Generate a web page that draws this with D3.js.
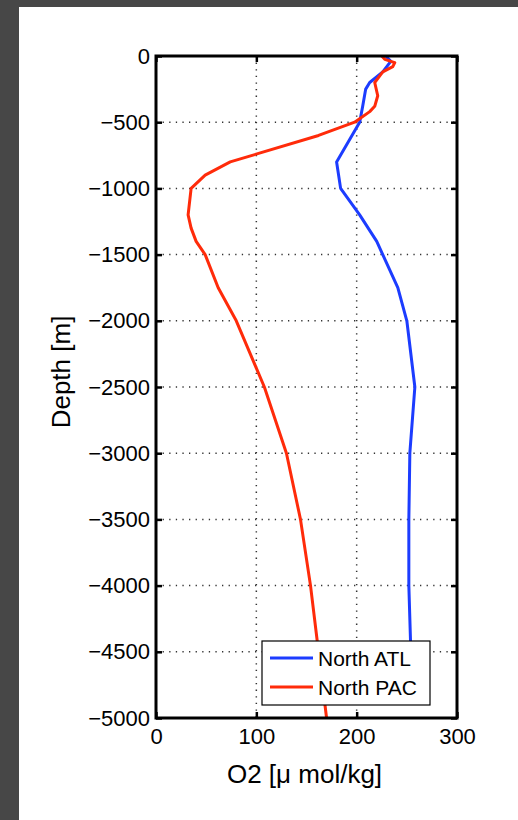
<!DOCTYPE html>
<html lang="en">
<head>
<meta charset="UTF-8">
<title>O2 depth profiles</title>
<script src="https://d3js.org/d3.v7.min.js"></script>
<style>
  body { margin: 0; background: #474747; }
  svg { display: block; font-family: "Liberation Sans", Arial, sans-serif; }
  .axis path { display: none; }
  .axis line { stroke: #000; stroke-width: 2.5; }
  .axis text { font-size: 22px; fill: #000; }
  .grid line { stroke: #333; stroke-width: 1.5; stroke-dasharray: 1.3 5.3; }
</style>
</head>
<body>
<svg id="chart" width="518" height="820"></svg>
<script>
// tick labels
const xTicks = [0, 100, 200, 300];
const yTicks = [0, -500, -1000, -1500, -2000, -2500, -3000, -3500, -4000, -4500, -5000];

// North Atlantic profile
const atlDepth = [0, -40, -120, -200, -250, -380, -500, -800, -1000, -1200, -1400, -1500, -1750, -2000, -2500, -3000, -3500, -4000, -4500, -4750];
const atlO2    = [229, 234, 226, 213, 209, 206, 203, 180, 184, 203, 220, 226, 241, 250, 258, 253, 252, 252, 254, 255];

// North Pacific profile
const pacDepth = [0, -25, -50, -80, -120, -150, -200, -300, -380, -420, -500, -600, -800, -900, -1000, -1200, -1300, -1400, -1500, -1750, -2000, -2500, -3000, -3500, -4000, -4500, -5000];
const pacO2    = [225, 228, 238, 236, 226, 223, 218, 221, 218, 213, 198, 162, 74, 49, 35, 32, 35, 40, 49, 62, 80, 108, 130, 144, 154, 162, 170];

const series = [
  { name: "North ATL", color: "#1c3cff", depth: atlDepth, o2: atlO2 },
  { name: "North PAC", color: "#ff2b0a", depth: pacDepth, o2: pacO2 }
];

const svg = d3.select("#chart");
const W = 518, H = 820;
const margin = { left: 156, top: 56, right: 61, bottom: 102 };
const width = W - margin.left - margin.right;
const height = H - margin.top - margin.bottom;

// figure background
svg.append("rect").attr("x", 19).attr("y", 7).attr("width", W - 19).attr("height", H - 7).attr("fill", "#fff");

const x = d3.scaleLinear().domain([0, 300]).range([0, width]);
const y = d3.scaleLinear().domain([-5000, 0]).range([height, 0]);

const g = svg.append("g").attr("transform", `translate(${margin.left},${margin.top})`);

// dotted grid
g.append("g").attr("class", "grid")
  .selectAll("line").data(xTicks.slice(1, -1)).join("line")
  .attr("x1", d => x(d)).attr("x2", d => x(d)).attr("y1", 0).attr("y2", height);
g.append("g").attr("class", "grid")
  .selectAll("line").data(yTicks.slice(1, -1)).join("line")
  .attr("y1", d => y(d)).attr("y2", d => y(d)).attr("x1", 0).attr("x2", width);

// data lines
const line = d3.line().x(d => x(d[1])).y(d => y(d[0]));
series.forEach(s => {
  g.append("path")
    .datum(d3.zip(s.depth, s.o2))
    .attr("fill", "none")
    .attr("stroke", s.color)
    .attr("stroke-width", 3)
    .attr("stroke-linejoin", "round")
    .attr("d", line);
});

// axes, ticks pointing inward
const fmt = d3.format("d");
g.append("g").attr("class", "axis")
  .call(d3.axisLeft(y).tickValues(yTicks).tickFormat(fmt).tickSizeInner(-6).tickSizeOuter(0).tickPadding(6));
g.append("g").attr("class", "axis").attr("transform", `translate(${width},0)`)
  .call(d3.axisRight(y).tickValues(yTicks).tickFormat("").tickSizeInner(-6).tickSizeOuter(0));
g.append("g").attr("class", "axis").attr("transform", `translate(0,${height})`)
  .call(d3.axisBottom(x).tickValues(xTicks).tickFormat(fmt).tickSizeInner(-6).tickSizeOuter(0).tickPadding(10));
g.append("g").attr("class", "axis")
  .call(d3.axisTop(x).tickValues(xTicks).tickFormat("").tickSizeInner(-6).tickSizeOuter(0));

// axes box
g.append("rect").attr("width", width).attr("height", height)
  .attr("fill", "none").attr("stroke", "#000").attr("stroke-width", 3);

// axis labels
svg.append("text")
  .attr("transform", `translate(70,${margin.top + height / 2 - 15}) rotate(-90)`)
  .attr("text-anchor", "middle")
  .attr("font-size", 26)
  .text("Depth [m]");
svg.append("text")
  .attr("x", margin.left + width / 2 - 2).attr("y", 783)
  .attr("text-anchor", "middle")
  .attr("font-size", 26)
  .text("O2 [\u03bc mol/kg]");

// legend
const legend = svg.append("g").attr("transform", "translate(262,641)");
legend.append("rect").attr("width", 168).attr("height", 64)
  .attr("fill", "#fff").attr("stroke", "#000").attr("stroke-width", 1.2);
series.forEach((s, i) => {
  const ly = 17 + i * 29;
  legend.append("line").attr("x1", 8).attr("x2", 51).attr("y1", ly).attr("y2", ly)
    .attr("stroke", s.color).attr("stroke-width", 3);
  legend.append("text").attr("x", 56).attr("y", ly).attr("dy", "0.36em")
    .attr("font-size", 21).text(s.name);
});
</script>
</body>
</html>
